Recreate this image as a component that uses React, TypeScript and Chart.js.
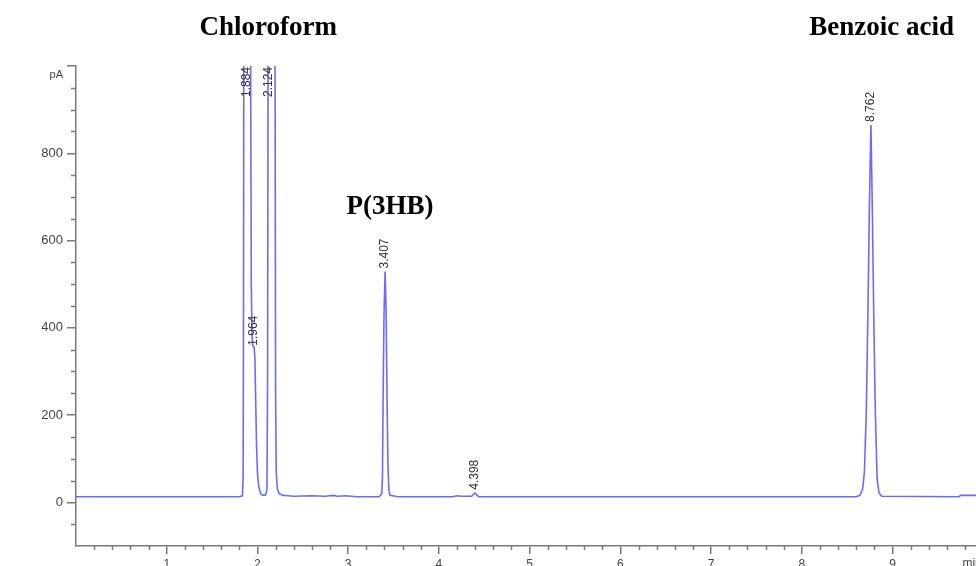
import React, { useEffect, useRef } from "react";
import { Chart, registerables } from "chart.js";

Chart.register(...registerables);

// Retention time (min) and detector signal (pA)
const times = [
  0, 1.8, 1.835, 1.842, 1.846, 1.85, 1.86, 1.915, 1.925, 1.932, 1.94, 1.95, 1.964, 1.972, 1.98, 1.99, 2.0, 2.015,
  2.035, 2.06, 2.09, 2.105, 2.112, 2.118, 2.125, 2.185, 2.195, 2.2, 2.207, 2.22, 2.24, 2.28, 2.4, 2.6, 2.75, 2.84,
  2.88, 2.97, 3.1, 3.34, 3.37, 3.378, 3.385, 3.395, 3.407, 3.418, 3.428, 3.438, 3.448, 3.46, 3.55, 4.15, 4.2, 4.25,
  4.36, 4.38, 4.398, 4.415, 4.44, 8.6, 8.64, 8.67, 8.69, 8.71, 8.73, 8.745, 8.762, 8.778, 8.795, 8.81, 8.83, 8.85,
  8.88, 9.73, 9.75, 9.92,
];
const signal = [
  13, 13, 15, 60, 400, 1100, 1800, 1800, 1000, 500, 380, 358, 355, 330, 240, 130, 68, 35,
  20, 16, 17, 30, 300, 1200, 1800, 1800, 900, 250, 70, 30, 20, 16, 14, 15, 14, 16,
  14, 15, 13, 13, 20, 60, 240, 430, 529, 440, 250, 90, 30, 16, 13, 13, 15, 14,
  14, 18, 22, 17, 13, 13, 16, 30, 70, 200, 450, 680, 865, 660, 400, 210, 55, 22,
  14, 13, 16, 16,
];

// Peak annotations: retention time label, apex time, apex value (null = off scale)
const peakLabels = ["1.884", "1.964", "2.124", "3.407", "4.398", "8.762"];
const peakTimes = [1.884, 1.964, 2.124, 3.407, 4.398, 8.762];
const peakApex = [null, 352, null, 529, 22, 865];

// Compound names (time, pA position)
const compoundNames = ["Chloroform", "P(3HB)", "Benzoic acid"];
const compoundTimes = [2.12, 3.46, 8.88];
const compoundValues = [1072, 661, 1072];

const xTickValues = [1, 2, 3, 4, 5, 6, 7, 8, 9];
const yTickValues = [0, 200, 400, 600, 800, 1000];
const X_MIN = 0;
const X_MAX = 9.92;
const Y_MIN = -100;
const Y_MAX = 1000;

const AXIS_COLOR = "#7a7a7a";
const TEXT_COLOR = "#444444";

const extrasPlugin = {
  id: "extras",
  afterDraw(chart: any) {
    const ctx = chart.ctx;
    const xs = chart.scales.x;
    const ys = chart.scales.y;
    const area = chart.chartArea;
    ctx.save();
    // minor ticks
    ctx.strokeStyle = AXIS_COLOR;
    ctx.lineWidth = 1.5;
    ctx.beginPath();
    for (let v = -50; v < Y_MAX; v += 50) {
      if (v % 200 === 0) continue;
      const py = Math.round(ys.getPixelForValue(v)) + 0.5;
      ctx.moveTo(area.left - 5, py);
      ctx.lineTo(area.left, py);
    }
    for (let i = 1; i * 0.2 < X_MAX; i++) {
      if (i % 5 === 0) continue;
      const px = Math.round(xs.getPixelForValue(i * 0.2)) + 0.5;
      ctx.moveTo(px, area.bottom);
      ctx.lineTo(px, area.bottom + 4);
    }
    ctx.stroke();

    // unit labels
    ctx.fillStyle = TEXT_COLOR;
    ctx.font = '11px "Liberation Sans", Arial, sans-serif';
    ctx.textAlign = "right";
    ctx.textBaseline = "middle";
    ctx.fillText("pA", area.left - 13, ys.getPixelForValue(Y_MAX) + 9);
    ctx.font = '12px "Liberation Sans", Arial, sans-serif';
    ctx.textAlign = "left";
    ctx.textBaseline = "top";
    ctx.fillText("min", xs.getPixelForValue(9.77), area.bottom + 12);

    // peak labels
    ctx.fillStyle = "#333333";
    ctx.font = '12px "Liberation Sans", Arial, sans-serif';
    ctx.textBaseline = "middle";
    peakLabels.forEach((lab, i) => {
      const px = xs.getPixelForValue(peakTimes[i]);
      const apex = peakApex[i];
      ctx.save();
      if (apex === null) {
        ctx.translate(px, area.top + 1);
        ctx.rotate(-Math.PI / 2);
        ctx.textAlign = "right";
      } else {
        ctx.translate(px, ys.getPixelForValue(apex) - 3);
        ctx.rotate(-Math.PI / 2);
        ctx.textAlign = "left";
      }
      ctx.fillText(lab, 0, 0);
      ctx.restore();
    });

    // compound names
    ctx.fillStyle = "#000000";
    ctx.font = 'bold 27px "Liberation Serif", "Times New Roman", serif';
    ctx.textAlign = "center";
    ctx.textBaseline = "alphabetic";
    compoundNames.forEach((name, i) => {
      ctx.fillText(name, xs.getPixelForValue(compoundTimes[i]), ys.getPixelForValue(compoundValues[i]));
    });
    ctx.restore();
  },
};

export default function App() {
  const canvasRef = useRef<HTMLCanvasElement | null>(null);

  useEffect(() => {
    if (!canvasRef.current) return;
    const data = times.map((t, i) => ({ x: t, y: signal[i] }));
    const chart = new Chart(canvasRef.current, {
      type: "line",
      data: {
        datasets: [
          {
            data,
            borderColor: "rgba(80,80,255,0.85)",
            borderWidth: 1.6,
            pointRadius: 0,
            tension: 0.0001,
            fill: false,
          },
        ],
      },
      options: {
        responsive: false,
        animation: false,
        devicePixelRatio: 1,
        layout: { padding: { top: 66, right: 0, left: 0, bottom: 0 } },
        plugins: { legend: { display: false }, tooltip: { enabled: false }, title: { display: false } },
        scales: {
          x: {
            type: "linear",
            min: X_MIN,
            max: X_MAX,
            afterBuildTicks: (s: any) => {
              s.ticks = xTickValues.map((value) => ({ value }));
            },
            afterFit: (s: any) => {
              s.height = 20;
            },
            grid: { drawOnChartArea: false, drawTicks: true, tickLength: 8, color: AXIS_COLOR, lineWidth: 1.5 },
            border: { color: AXIS_COLOR, width: 1.5 },
            ticks: {
              padding: 3,
              color: TEXT_COLOR,
              font: { size: 12, family: '"Liberation Sans", Arial, sans-serif' },
              maxRotation: 0,
              autoSkip: false,
            },
          },
          y: {
            type: "linear",
            min: Y_MIN,
            max: Y_MAX,
            afterBuildTicks: (s: any) => {
              s.ticks = yTickValues.map((value) => ({ value }));
            },
            afterFit: (s: any) => {
              s.width = 76;
            },
            grid: { drawOnChartArea: false, drawTicks: true, tickLength: 9, color: AXIS_COLOR, lineWidth: 1.5 },
            border: { color: AXIS_COLOR, width: 1.5 },
            ticks: {
              padding: 4,
              color: TEXT_COLOR,
              font: { size: 13, family: '"Liberation Sans", Arial, sans-serif' },
              callback: (v: any) => (v === Y_MAX ? "" : String(v)),
              autoSkip: false,
            },
          },
        },
      },
      plugins: [extrasPlugin],
    });
    return () => chart.destroy();
  }, []);

  return (
    <div style={{ position: "absolute", left: 0, top: 0, width: 976, height: 566, overflow: "hidden", background: "#fff" }}>
      <canvas ref={canvasRef} width={976} height={566} style={{ display: "block" }} />
    </div>
  );
}
